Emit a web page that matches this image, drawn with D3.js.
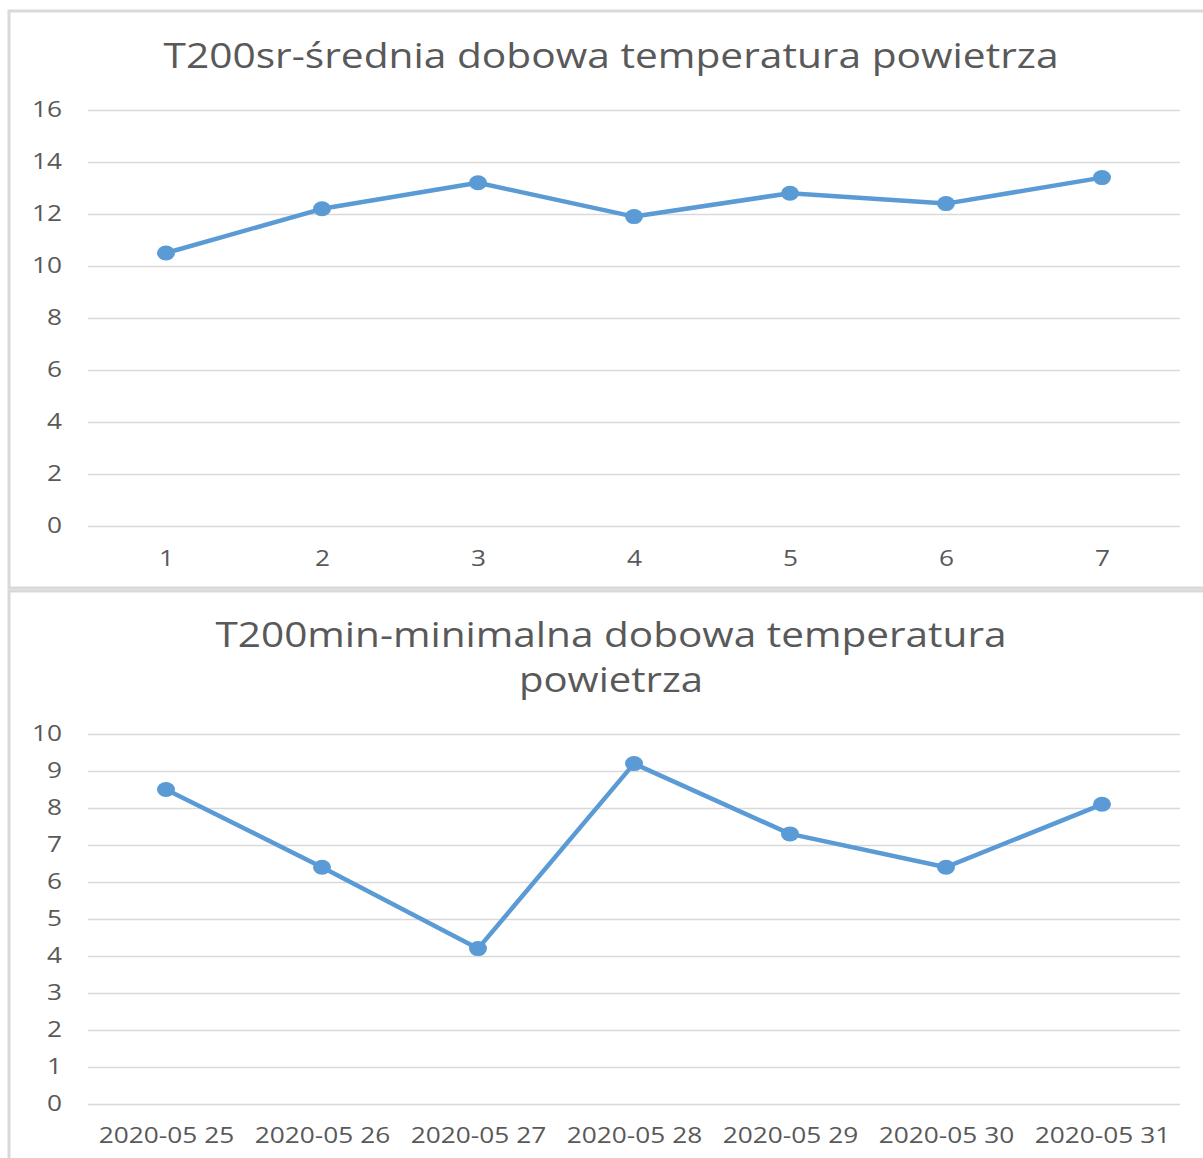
<!DOCTYPE html>
<html>
<head>
<meta charset="utf-8">
<script src="https://cdn.jsdelivr.net/npm/d3@7"></script>
<style>
  body { margin: 0; background: #fff; }
  text { font-family: "Open Sans", sans-serif; fill: #595959; }
</style>
</head>
<body>
<div class="charts"></div>
<script>
let days = ["1", "2", "3", "4", "5", "6", "7"]
let meanTemp = [10.5, 12.2, 13.2, 11.9, 12.8, 12.4, 13.4]
let meanTicks = [0, 2, 4, 6, 8, 10, 12, 14, 16]

let dates = ["2020-05 25", "2020-05 26", "2020-05 27", "2020-05 28", "2020-05 29", "2020-05 30", "2020-05 31"]
let minTemp = [8.5, 6.4, 4.2, 9.2, 7.3, 6.4, 8.1]
let minTicks = [0, 1, 2, 3, 4, 5, 6, 7, 8, 9, 10]

let width = 1203
let height = 1158
let stretch = 1.25
let blue = "#5b9bd5"
let grid = "#d9d9d9"

let svg = d3.select(".charts")
  .append("svg")
  .attr("width", width)
  .attr("height", height)

// chart frames
svg.append("rect")
  .attr("x", 9).attr("y", 11)
  .attr("width", 1220).attr("height", 577)
  .attr("fill", "none").attr("stroke", grid).attr("stroke-width", 3)
svg.append("rect")
  .attr("x", 9).attr("y", 591)
  .attr("width", 1220).attr("height", 600)
  .attr("fill", "none").attr("stroke", grid).attr("stroke-width", 3)

let drawChart = (opts) => {
  let x = d3.scalePoint()
    .domain(opts.cats)
    .range([88, 1180])
    .padding(0.5)

  let y = d3.scaleLinear()
    .domain([0, d3.max(opts.ticks)])
    .range([opts.y0, opts.y1])

  let g = svg.append("g")

  // title
  opts.title.forEach((t, i) => {
    g.append("text")
      .attr("x", 611)
      .attr("y", opts.titleY + i * 45)
      .attr("text-anchor", "middle")
      .attr("font-size", 34)
      .attr("textLength", opts.titleW[i])
      .attr("lengthAdjust", "spacingAndGlyphs")
      .text(t)
  })

  // y axis with gridlines
  let yAxis = g.append("g")
    .attr("transform", "translate(88,0)")
    .call(d3.axisLeft(y).tickValues(opts.ticks).tickSize(-1092).tickPadding(26))
  yAxis.select(".domain").remove()
  yAxis.selectAll("line").attr("stroke", grid).attr("stroke-width", 1.5)
  yAxis.selectAll("text")
    .attr("font-size", 21)
    .attr("x", -26 / stretch)
    .attr("transform", `scale(${stretch},1)`)

  // x axis labels
  let xAxis = g.append("g")
    .attr("transform", `translate(0,${opts.y0})`)
    .call(d3.axisBottom(x).tickSize(0).tickPadding(opts.xPad))
  xAxis.select(".domain").remove()
  xAxis.selectAll(".tick text")
    .attr("font-size", 21)
    .attr("transform", `scale(${stretch},1)`)

  let line = d3.line()
    .x((d, i) => x(opts.cats[i]))
    .y(d => y(d))

  g.append("path")
    .datum(opts.values)
    .attr("d", line)
    .attr("fill", "none")
    .attr("stroke", blue)
    .attr("stroke-width", 4.5)
    .attr("stroke-linejoin", "round")

  g.selectAll("ellipse")
    .data(opts.values)
    .enter()
    .append("ellipse")
    .attr("cx", (d, i) => x(opts.cats[i]))
    .attr("cy", d => y(d))
    .attr("rx", 9)
    .attr("ry", 7.5)
    .attr("fill", blue)
}

drawChart({
  cats: days,
  values: meanTemp,
  ticks: meanTicks,
  y0: 526,
  y1: 110,
  title: ["T200sr-średnia dobowa temperatura powietrza"],
  titleW: [895],
  titleY: 68,
  xPad: 25
})

drawChart({
  cats: dates,
  values: minTemp,
  ticks: minTicks,
  y0: 1104,
  y1: 734,
  title: ["T200min-minimalna dobowa temperatura", "powietrza"],
  titleW: [791, 184],
  titleY: 647,
  xPad: 24
})
</script>
</body>
</html>
